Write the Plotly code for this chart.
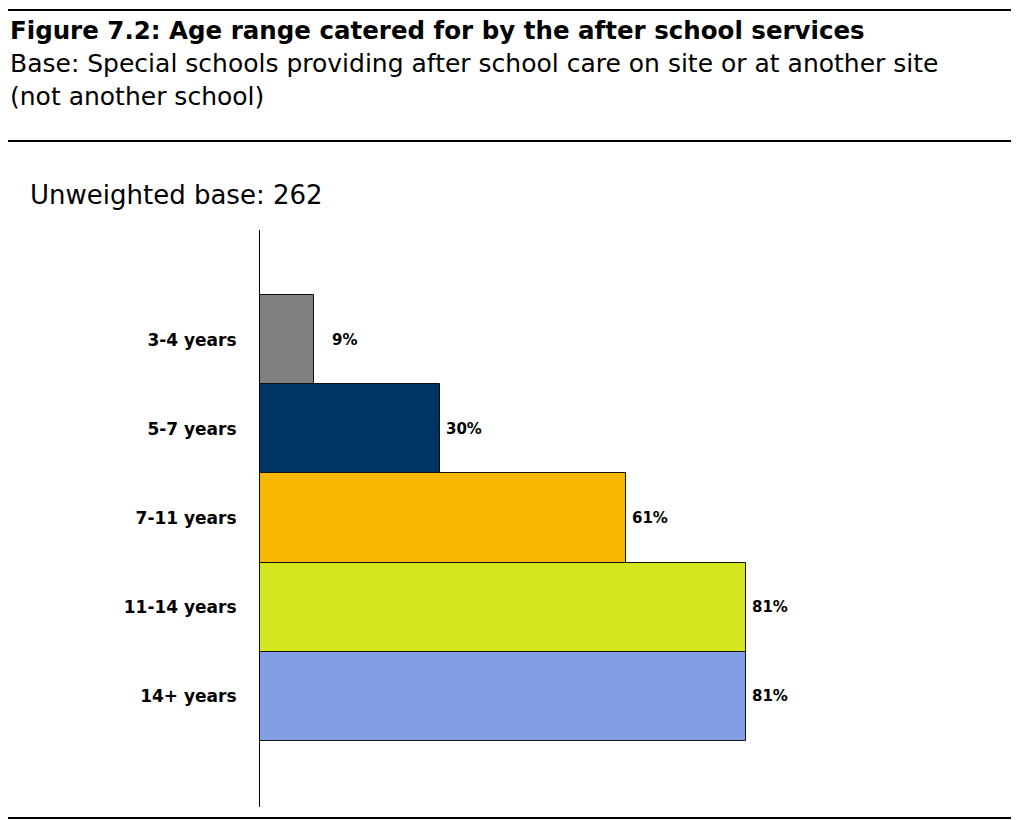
import plotly.graph_objects as go

# ---- data ----
categories = ["3-4 years", "5-7 years", "7-11 years", "11-14 years", "14+ years"]
values = [9, 30, 61, 81, 81]
bar_colors = ["#808080", "#003462", "#F8B800", "#D4E61E", "#829FE5"]
value_labels = [f"{v}%" for v in values]

title_text = "Figure 7.2: Age range catered for by the after school services"
base_line1 = "Base: Special schools providing after school care on site or at another site"
base_line2 = "(not another school)"
unweighted_text = "Unweighted base: 262"

MIN_LABEL_X = 11  # labels for very short bars sit a little further out

# ---- layout geometry (pixels) ----
OFF = 8                      # page body margin offset
W, H = 1019 - OFF, 820 - OFF
PW, PH = 600, 577
L, T = 260 - OFF, 230 - OFF
R, B = W - L - PW, H - T - PH

FONT = "DejaVu Sans, Arial, sans-serif"


def px_x(x):
    """reference window pixel x -> paper"""
    return (x - OFF - L) / PW


def px_y(y):
    """reference window pixel y -> paper"""
    return (H - B - (y - OFF)) / PH


fig = go.Figure()
fig.add_trace(go.Bar(
    x=values,
    y=categories,
    orientation="h",
    marker=dict(color=bar_colors, line=dict(color="#111111", width=1)),
    width=1.0,
    hoverinfo="skip",
))

annotations = []
for cat, v, lab in zip(categories, values, value_labels):
    annotations.append(dict(
        x=max(v, MIN_LABEL_X), y=cat, xref="x", yref="y",
        text=f"<b>{lab}</b>", showarrow=False, xanchor="left", yanchor="middle",
        xshift=4, font=dict(family=FONT, size=15, color="#000000"),
    ))

# header texts
annotations += [
    dict(x=px_x(8), y=px_y(30), xref="paper", yref="paper", text=f"<b>{title_text}</b>",
         showarrow=False, xanchor="left", yanchor="middle",
         font=dict(family=FONT, size=24.5, color="#000000")),
    dict(x=px_x(8), y=px_y(63), xref="paper", yref="paper", text=base_line1,
         showarrow=False, xanchor="left", yanchor="middle",
         font=dict(family=FONT, size=25, color="#000000")),
    dict(x=px_x(8), y=px_y(97), xref="paper", yref="paper", text=base_line2,
         showarrow=False, xanchor="left", yanchor="middle",
         font=dict(family=FONT, size=25, color="#000000")),
    dict(x=px_x(28), y=px_y(195), xref="paper", yref="paper", text=unweighted_text,
         showarrow=False, xanchor="left", yanchor="middle",
         font=dict(family=FONT, size=26, color="#000000")),
]

shapes = []
for yy in (10, 141, 818):
    shapes.append(dict(type="line", xref="paper", yref="paper",
                       x0=px_x(OFF), x1=px_x(1019), y0=px_y(yy), y1=px_y(yy),
                       line=dict(color="#000000", width=2)))

fig.update_layout(
    width=W, height=H,
    margin=dict(l=L, r=R, t=T, b=B, pad=0),
    paper_bgcolor="white", plot_bgcolor="white",
    showlegend=False,
    bargap=0,
    annotations=annotations,
    shapes=shapes,
    xaxis=dict(range=[0, 100], showgrid=False, zeroline=False, showline=False,
               showticklabels=False, ticks="", fixedrange=True),
    yaxis=dict(type="category", categoryorder="array", categoryarray=categories,
               range=[5.24, -1.23], showgrid=False, zeroline=False,
               showline=True, linecolor="#000000", linewidth=1,
               ticks="outside", ticklen=19, tickcolor="rgba(0,0,0,0)",
               tickfont=dict(family=FONT, size=17, color="#000000"),
               tickprefix="<b>", ticksuffix="</b>", fixedrange=True),
)

fig.write_html("out.html")
